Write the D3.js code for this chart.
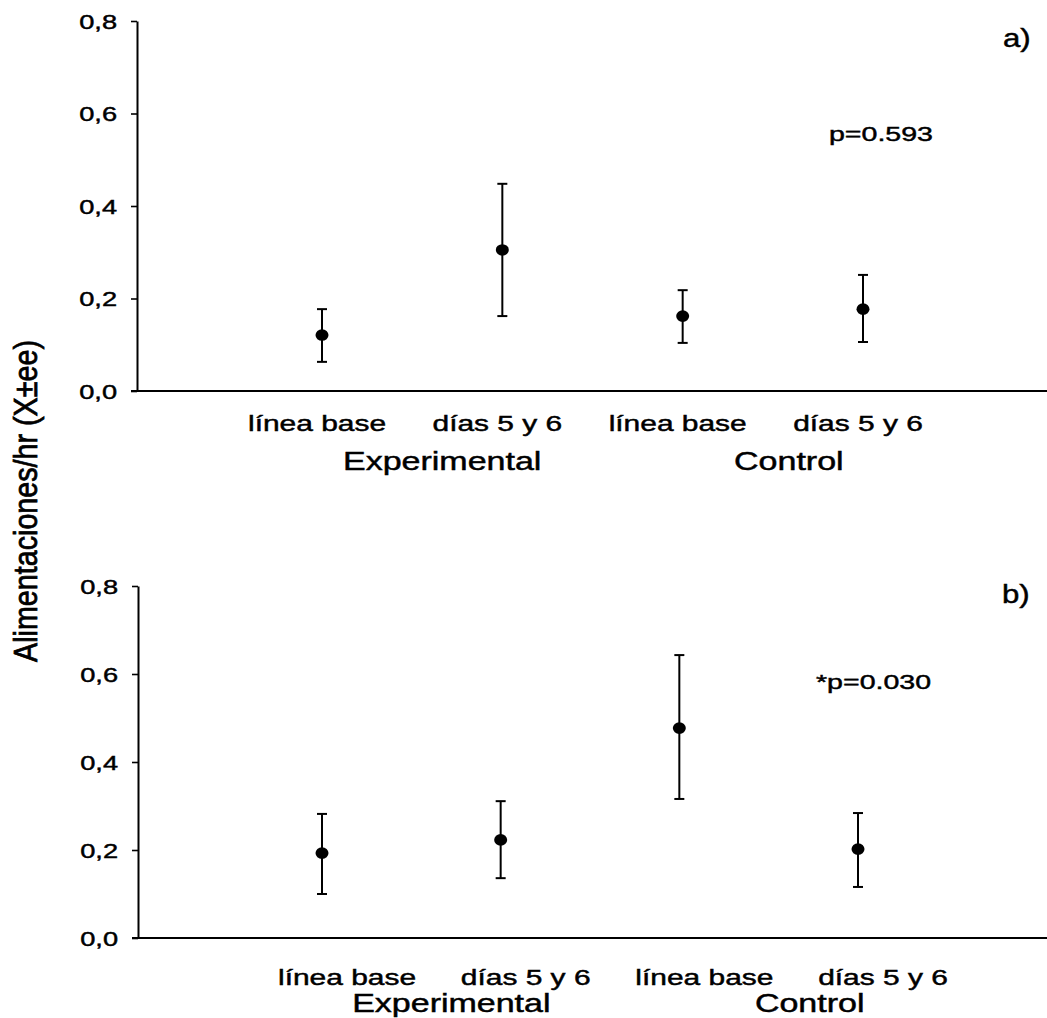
<!DOCTYPE html>
<html><head><meta charset="utf-8">
<script src="https://cdn.jsdelivr.net/npm/d3@7/dist/d3.min.js"></script>
<style>
html,body{margin:0;padding:0;background:#fff;}
svg{display:block;font-family:"Liberation Sans",Arial,Helvetica,sans-serif;}
text{fill:#000;stroke:#000;stroke-width:0.45px;}
</style></head>
<body>
<svg id="chart" width="1047" height="1018"></svg>
<script>
// ---- data ----
const categories = ["línea base", "días 5 y 6", "línea base", "días 5 y 6"];
const groups = ["Experimental", "Control"];
const yTicks = [0, 0.2, 0.4, 0.6, 0.8];
// Panel a)
const meanA  = [0.121, 0.305, 0.162, 0.177];
const upperA = [0.177, 0.448, 0.218, 0.251];
const lowerA = [0.063, 0.162, 0.104, 0.106];
const pA = "p=0.593";
// Panel b)
const meanB  = [0.193, 0.223, 0.477, 0.202];
const upperB = [0.282, 0.311, 0.643, 0.284];
const lowerB = [0.100, 0.136, 0.316, 0.116];
const pB = "*p=0.030";
const yTitle = "Alimentaciones/hr (X±ee)";

// ---- layout ----
const W = 1047;
const SX = 1.36; // horizontal stretch of the scanned text
const svg = d3.select("#chart");

const panels = [
  {id:"a)", mean:meanA, upper:upperA, lower:lowerA, p:pA,
   yTop:21, yZero:391, axisX:137, xr:[322,863],
   catY:431, catShift:-5, grpY:470, grpShift:[30,16],
   pX:829, pY:141, tagX:1003, tagY:47},
  {id:"b)", mean:meanB, upper:upperB, lower:lowerB, p:pB,
   yTop:586, yZero:938, axisX:138, xr:[322,858],
   catY:985, catShift:25, grpY:1012, grpShift:[40,41],
   pX:816, pY:689, tagX:1002, tagY:603}
];

function stext(g, x, y, str, size, anchor, sx) {
  return g.append("text")
    .attr("transform", `translate(${x},${y}) scale(${sx},1)`)
    .attr("text-anchor", anchor)
    .style("font-size", size + "px")
    .text(str);
}

const fmt = d => d3.format(".1f")(d).replace(".", ",");

panels.forEach(P => {
  const g = svg.append("g");
  const y = d3.scaleLinear().domain([0, 0.8]).range([P.yZero, P.yTop]);
  const x = d3.scaleLinear().domain([1, 4]).range(P.xr);

  // y axis
  const ax = g.append("g").attr("transform", `translate(${P.axisX},0)`)
    .call(d3.axisLeft(y).tickValues(yTicks).tickFormat(fmt).tickSize(6).tickSizeOuter(0));
  ax.attr("font-family", null);
  ax.select(".domain").attr("stroke", "#000").attr("stroke-width", 2);
  ax.selectAll(".tick line").attr("stroke", "#000").attr("stroke-width", 1.6);
  ax.selectAll(".tick text")
    .attr("x", -20 / SX).attr("dy", "0.36em")
    .attr("transform", `scale(${SX},1)`)
    .style("font-size", "20px").attr("fill", "#000");

  // x axis baseline
  g.append("line")
    .attr("x1", P.axisX - 6).attr("x2", W)
    .attr("y1", y(0)).attr("y2", y(0))
    .attr("stroke", "#000").attr("stroke-width", 2);

  // error bars
  const idx = d3.range(categories.length);
  const eb = g.selectAll(".eb").data(idx).join("g");
  eb.append("line")
    .attr("x1", i => x(i + 1)).attr("x2", i => x(i + 1))
    .attr("y1", i => y(P.upper[i])).attr("y2", i => y(P.lower[i]))
    .attr("stroke", "#000").attr("stroke-width", 2);
  [P.upper, P.lower].forEach(arr => {
    eb.append("line")
      .attr("x1", i => x(i + 1) - 5).attr("x2", i => x(i + 1) + 5)
      .attr("y1", i => y(arr[i])).attr("y2", i => y(arr[i]))
      .attr("stroke", "#000").attr("stroke-width", 2);
  });
  eb.append("ellipse")
    .attr("cx", i => x(i + 1)).attr("cy", i => y(P.mean[i]))
    .attr("rx", 6.5).attr("ry", 5.8).attr("fill", "#000");

  // category labels
  categories.forEach((c, i) => stext(g, x(i + 1) + P.catShift, P.catY, c, 22, "middle", SX));
  // group labels
  groups.forEach((gr, k) => stext(g, x(1.5 + 2 * k) + P.grpShift[k], P.grpY, gr, 25, "middle", SX));

  // p-value and panel tag
  stext(g, P.pX, P.pY, P.p, 21, "start", SX);
  stext(g, P.tagX, P.tagY, P.id, 26, "start", 1.2);
});

// y-axis title (rotated, condensed)
svg.append("text")
  .attr("transform", "translate(37,501) rotate(-90) scale(0.87,1)")
  .attr("text-anchor", "middle")
  .style("font-size", "33px")
  .style("stroke-width", "0.8px")
  .text(yTitle);
</script>
</body></html>
